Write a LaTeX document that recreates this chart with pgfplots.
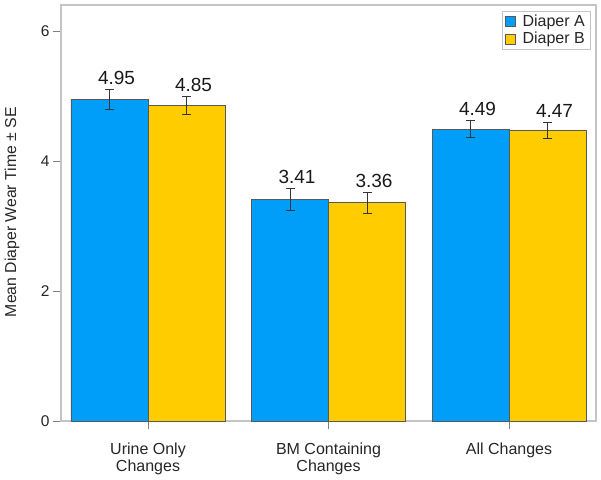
\documentclass[border=0pt]{standalone}
\usepackage{fontspec}
\setmainfont{Liberation Sans}
\usepackage{pgfplots}
\pgfplotsset{compat=1.18}
\definecolor{barA}{RGB}{0,158,248}
\definecolor{barB}{RGB}{255,204,0}
\definecolor{framec}{RGB}{196,196,196}
\pgfplotsset{sqlegend/.style={legend image code/.code={\draw[##1, line width=0.6pt] (0pt,-5pt) rectangle (10pt,5pt); \path (15pt,0pt);}}}
\begin{document}
\begin{tikzpicture}
\begin{axis}[
  scale only axis, width=535pt, height=416pt,
  xmin=-0.482, xmax=2.482, ymin=0, ymax=6.4,
  xtick={0,1,2},
  xticklabels={{Urine Only\\Changes},{BM Containing\\Changes},{All Changes}},
  ytick={0,2,4,6},
  tick align=outside, xtick pos=bottom, ytick pos=left,
  major tick length=8pt,
  axis line style={draw=framec, line width=1.2pt},
  tick style={draw=gray, line width=0.8pt},
  /pgf/number format/assume math mode=true,
  yticklabel style={font=\fontsize{15.5}{17}\selectfont, text=black!85},
  xticklabel style={align=center, font=\fontsize{16}{17}\selectfont, text=black!85, yshift=-10pt},
  ylabel={Mean Diaper Wear Time ± SE},
  every axis y label/.style={at={(axis description cs:-0.0916,0.502)}, rotate=90, anchor=center, font=\fontsize{15.8}{18}\selectfont, text=black!85},
  legend style={at={(1,1)}, anchor=north east, xshift=-6pt, yshift=-6pt, draw=framec, font=\fontsize{16}{19}\selectfont, inner xsep=3pt, inner ysep=2pt, row sep=0pt, cells={anchor=west}, text=black!85},
]
\addplot[ybar, sqlegend, bar width=77pt, bar shift=0pt, fill=barA, draw=black!65, line width=0.6pt,
  error bars/.cd, y dir=both, y explicit, error bar style={black!80, line width=0.9pt},
  error mark options={rotate=90, mark size=4.5pt, line width=0.9pt, black!80}]
  coordinates {(-0.2133,4.95) +- (0,0.155) (0.7867,3.41) +- (0,0.165) (1.7867,4.49) +- (0,0.13)};
\addlegendentry{Diaper A}
\addplot[ybar, sqlegend, bar width=77pt, bar shift=0pt, fill=barB, draw=black!65, line width=0.6pt,
  error bars/.cd, y dir=both, y explicit, error bar style={black!80, line width=0.9pt},
  error mark options={rotate=90, mark size=4.5pt, line width=0.9pt, black!80}]
  coordinates {(0.2133,4.85) +- (0,0.14) (1.2133,3.36) +- (0,0.16) (2.2133,4.47) +- (0,0.125)};
\addlegendentry{Diaper B}
\addplot[forget plot, ybar, bar width=0.01pt, bar shift=0pt, draw=none, fill=none,
  nodes near coords, point meta=explicit symbolic,
  every node near coord/.append style={font=\fontsize{19}{21}\selectfont, inner sep=0pt, yshift=4.7pt, xshift=7pt, text=black!90}]
  table[meta=lab] {
x y lab
-0.2133 5.105 4.95
0.2133 4.99 4.85
0.7867 3.575 3.41
1.2133 3.52 3.36
1.7867 4.62 4.49
2.2133 4.595 4.47
};
\end{axis}
\path (-61pt,-58pt) rectangle (540pt,421pt);
\end{tikzpicture}
\end{document}
